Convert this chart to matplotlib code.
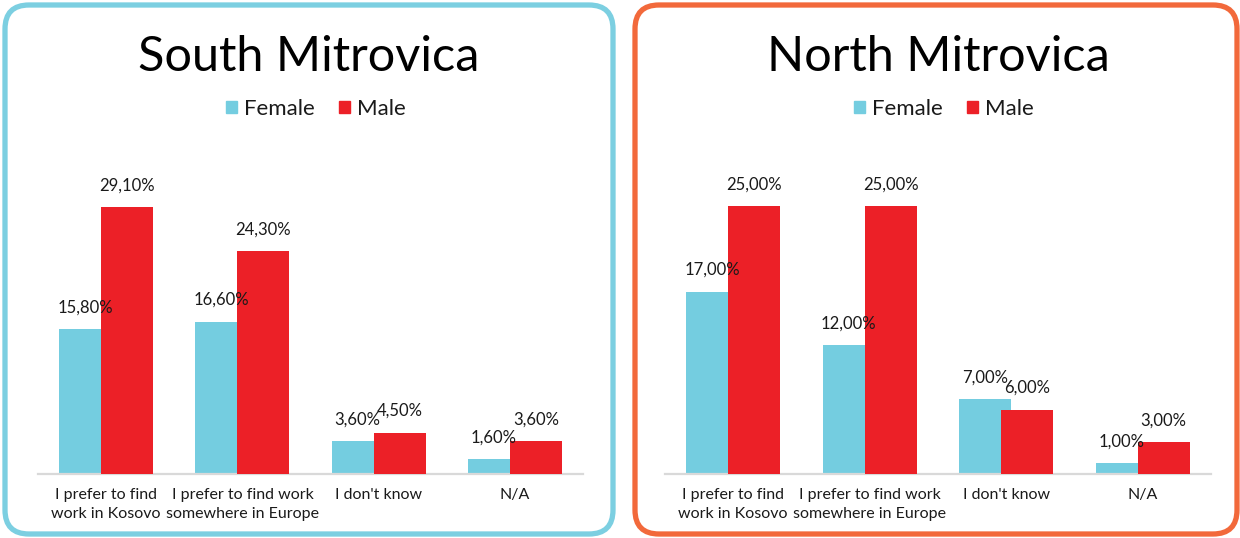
import matplotlib
matplotlib.use("Agg")
import matplotlib.pyplot as plt
from matplotlib.patches import FancyBboxPatch, Patch
import numpy as np

plt.rcParams['font.family'] = ['Lato', 'DejaVu Sans']

categories = ["I prefer to find\nwork in Kosovo", "I prefer to find work\nsomewhere in Europe", "I don't know", "N/A"]
south_female = [15.8, 16.6, 3.6, 1.6]
south_male = [29.1, 24.3, 4.5, 3.6]
north_female = [17.0, 12.0, 7.0, 1.0]
north_male = [25.0, 25.0, 6.0, 3.0]
titles = ["South Mitrovica", "North Mitrovica"]
series_names = ["Female", "Male"]

FEMALE = "#74cde0"
MALE = "#ec2027"
BORDERS = ["#7ccfe1", "#f2693b"]
W, H = 1240, 538

fig = plt.figure(figsize=(W / 100, H / 100), dpi=100)

def fmt(v):
    return f"{v:.2f}%".replace(".", ",")

panels = [
    dict(box=(5, 5, 608, 529), ax=(38, 160, 545, 314), ppu=9.18, title_x=309, leg_x=316,
         female=south_female, male=south_male, title=titles[0], border=BORDERS[0]),
    dict(box=(635, 5, 602, 529), ax=(665, 160, 546, 314), ppu=10.72, title_x=938, leg_x=944,
         female=north_female, male=north_male, title=titles[1], border=BORDERS[1]),
]

TXT = "#1a1a1a"

for p in panels:
    bx, by, bw, bh = p["box"]
    rect = FancyBboxPatch((bx / W, 1 - (by + bh) / H), bw / W, bh / H,
                          boxstyle=f"round,pad=0,rounding_size={24 / W}",
                          transform=fig.transFigure, fill=False,
                          edgecolor=p["border"], linewidth=3.8, mutation_aspect=W / H)
    fig.patches.append(rect)

    axx, axy, axw, axh = p["ax"]
    ax = fig.add_axes([axx / W, 1 - (axy + axh) / H, axw / W, axh / H])
    x = np.arange(len(categories))
    bw_units = 0.382
    off = 0.154
    ax.bar(x - off, p["female"], width=bw_units, color=FEMALE, zorder=2)
    ax.bar(x + off, p["male"], width=bw_units, color=MALE, zorder=3)
    ax.set_xlim(-0.5, 3.5)
    ax.set_ylim(0, axh / p["ppu"])
    for i in range(len(categories)):
        ax.annotate(fmt(p["female"][i]), (x[i] - off, p["female"][i]), xytext=(0, 12),
                    textcoords="offset points", ha="center", va="baseline",
                    fontsize=12, color=TXT, zorder=5)
        ax.annotate(fmt(p["male"][i]), (x[i] + off, p["male"][i]), xytext=(0, 12),
                    textcoords="offset points", ha="center", va="baseline",
                    fontsize=12, color=TXT, zorder=5)
    ax.set_xticks(x)
    ax.set_xticklabels(categories, fontsize=11.5, color=TXT, linespacing=1.45)
    ax.tick_params(axis="x", length=0, pad=10)
    ax.set_yticks([])
    for s in ["top", "left", "right"]:
        ax.spines[s].set_visible(False)
    ax.spines["bottom"].set_color("#d9d9d9")
    ax.spines["bottom"].set_linewidth(1.6)
    ax.patch.set_visible(False)

    fig.text(p["title_x"] / W, 1 - 57 / H, p["title"], ha="center", va="center",
             fontsize=35, color="#000000")
    handles = [Patch(color=FEMALE), Patch(color=MALE)]
    fig.legend(handles, series_names, ncol=2, frameon=False, loc="center",
               bbox_to_anchor=(p["leg_x"] / W, 1 - 109 / H),
               prop=dict(size=16),
               handlelength=0.5, handleheight=0.5, handletextpad=0.3,
               columnspacing=1.1, labelcolor=TXT)

fig.savefig("out.png", dpi=100)
